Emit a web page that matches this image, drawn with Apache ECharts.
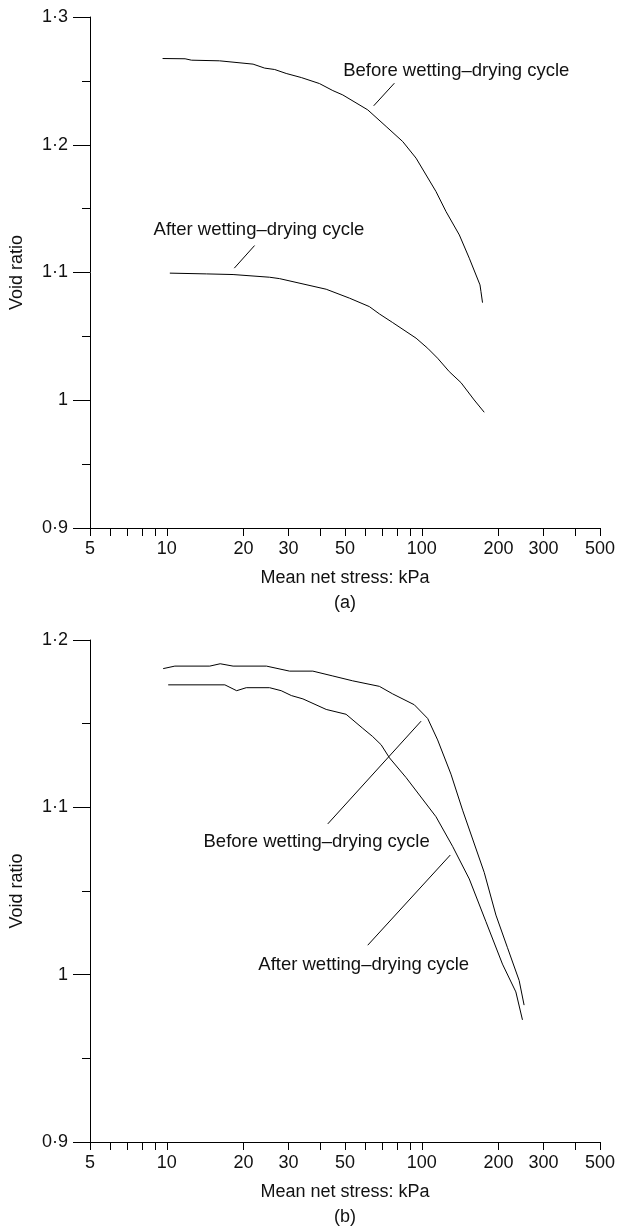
<!DOCTYPE html>
<html>
<head>
<meta charset="utf-8">
<script src="https://cdn.jsdelivr.net/npm/echarts@6/dist/echarts.min.js"></script>
<style>
  html, body { margin: 0; padding: 0; background: #fff; }
  #chart { width: 618px; height: 1231px; }
</style>
</head>
<body>
<div id="chart"></div>
<script>
// ---------- data ----------
const xTickValues = [5, 6, 7, 8, 9, 10, 20, 30, 40, 50, 60, 70, 80, 90, 100, 200, 300, 400, 500];
const xLabelValues = [5, 10, 20, 30, 50, 100, 200, 300, 500];

// (a) Before wetting-drying cycle
const aBeforeX = [9.63, 11.8, 12.5, 16.1, 21.8, 24.2, 26.5, 29.4, 33.7, 39.7, 44.8, 49.0, 61.4, 72.5, 84.2, 95.0, 113.7, 124.5, 140.4, 153.6, 169.2, 170.7, 173.1];
const aBeforeY = [1.2675, 1.2673, 1.2662, 1.2657, 1.2631, 1.2600, 1.2589, 1.2558, 1.2526, 1.2479, 1.2424, 1.2390, 1.2273, 1.2143, 1.2025, 1.1895, 1.1634, 1.1477, 1.1294, 1.1112, 1.0903, 1.0850, 1.0764];
// (a) After wetting-drying cycle
const aAfterX = [10.28, 14.3, 18.2, 25.3, 27.7, 42.2, 52.1, 62.3, 68.2, 76.9, 95.0, 105.5, 115.4, 128.2, 142.5, 160.6, 175.8];
const aAfterY = [1.0995, 1.0989, 1.0984, 1.0963, 1.0952, 1.0869, 1.0799, 1.0733, 1.0676, 1.0608, 1.0486, 1.0407, 1.0329, 1.0224, 1.0138, 1.0002, 0.9906];

// (b) Before wetting-drying cycle
const bBeforeX = [9.68, 10.76, 14.75, 16.2, 18.2, 24.6, 30.3, 37.4, 44.8, 53.6, 68.2, 76.9, 93.5, 105.5, 115.4, 130.2, 144.6, 175.8, 195.4, 216.9, 241, 252];
const bBeforeY = [1.1829, 1.1844, 1.1844, 1.1858, 1.1844, 1.1844, 1.1814, 1.1814, 1.1785, 1.1756, 1.1723, 1.1678, 1.1613, 1.1531, 1.1403, 1.1198, 1.0983, 1.0611, 1.0356, 1.0161, 0.9965, 0.9818];
// (b) After wetting-drying cycle
const bAfterX = [10.13, 16.9, 18.8, 20.5, 25.3, 28.1, 30.8, 34.2, 42.2, 50.5, 58.7, 64.2, 69.3, 74.7, 86.8, 113.7, 132.1, 153.6, 178.5, 207.3, 233.9, 248.3];
const bAfterY = [1.1732, 1.1732, 1.1697, 1.1715, 1.1715, 1.1697, 1.1668, 1.1648, 1.1585, 1.1556, 1.1472, 1.1423, 1.1374, 1.1296, 1.1178, 1.0944, 1.0767, 1.0572, 1.0317, 1.0063, 0.9897, 0.9730];

const beforeLabel = 'Before wetting\u2013drying cycle';
const afterLabel = 'After wetting\u2013drying cycle';
const xName = 'Mean net stress: kPa';
const yName = 'Void ratio';

// annotation anchors (data coordinates)
const aBeforeText = [136.6, 1.2579];
const aBeforeLeader = [[78.1, 1.2482], [64.8, 1.2305]];
const aAfterText = [23.0, 1.1334];
const aAfterLeader = [[22.1, 1.1211], [18.4, 1.1034]];
const bBeforeText = [38.7, 1.0791];
const bBeforeLeader = [[99.4, 1.1515], [42.8, 1.0901]];
const bAfterText = [59.2, 1.0059];
const bAfterLeader = [[129.4, 1.0715], [61.4, 1.0176]];

// ---------- chart ----------
const FONT = "'Liberation Sans', Arial, Helvetica, sans-serif";
const TXT = '#111';
const zip = (xs, ys) => xs.map((x, i) => [x, ys[i]]);
const yFmt = v => { const r = Math.round(v * 10) / 10; return r === 1 ? '1' : r.toFixed(1).replace('.', '\u00b7'); };

function xAxis(gridIndex, panel) {
  return {
    type: 'log', logBase: 10, gridIndex, min: 5, max: 500,
    name: xName + '\n' + panel, nameLocation: 'middle', nameGap: 38,
    nameTextStyle: { fontFamily: FONT, fontSize: 18, color: TXT, lineHeight: 25, verticalAlign: 'top' },
    axisLine: { show: true, lineStyle: { color: '#000', width: 1 } },
    axisTick: { show: true, length: 8, customValues: xTickValues, lineStyle: { color: '#000', width: 1 } },
    axisLabel: { show: true, customValues: xLabelValues, margin: 12, fontFamily: FONT, fontSize: 18, color: TXT, formatter: v => String(Math.round(v)) },
    minorTick: { show: false }, splitLine: { show: false }
  };
}
function yAxis(gridIndex, max) {
  return {
    type: 'value', gridIndex, min: 0.9, max, interval: 0.1,
    name: yName, nameLocation: 'middle', nameRotate: 90, nameGap: 64,
    nameTextStyle: { fontFamily: FONT, fontSize: 18, color: TXT },
    axisLine: { show: true, lineStyle: { color: '#000', width: 1 } },
    axisTick: { show: true, length: 17, lineStyle: { color: '#000', width: 1 } },
    minorTick: { show: true, splitNumber: 2, length: 8, lineStyle: { color: '#000', width: 1 } },
    axisLabel: { margin: 22, fontFamily: FONT, fontSize: 18, color: TXT, formatter: yFmt },
    splitLine: { show: false }, minorSplitLine: { show: false }
  };
}
function leader(pts) {
  return { silent: true, symbol: 'none', label: { show: false }, lineStyle: { color: '#000', width: 1, type: 'solid' },
    data: [[{ coord: pts[0] }, { coord: pts[1] }]], animation: false };
}
function note(pt, text) {
  return { silent: true, symbol: 'circle', symbolSize: 0, itemStyle: { color: 'rgba(0,0,0,0)' },
    label: { show: true, position: [0, 0], align: 'center', verticalAlign: 'middle', formatter: text,
      fontFamily: FONT, fontSize: 18.5, color: TXT },
    data: [{ coord: pt }], animation: false };
}
function line(name, xi, yi, data, textPt, text, leaderPts) {
  return { type: 'line', name, xAxisIndex: xi, yAxisIndex: yi, data, showSymbol: false, symbol: 'none',
    lineStyle: { color: '#000', width: 1 }, itemStyle: { color: '#000' }, smooth: false, silent: true,
    markLine: leader(leaderPts), markPoint: note(textPt, text) };
}

const chart = echarts.init(document.getElementById('chart'), null, { renderer: 'canvas' });
chart.setOption({
  animation: false,
  backgroundColor: '#fff',
  grid: [
    { left: 90, top: 17, width: 511, height: 511 },
    { left: 90, top: 640, width: 511, height: 511 }
  ],
  xAxis: [xAxis(0, '(a)'), xAxis(1, '(b)')],
  yAxis: [yAxis(0, 1.3), yAxis(1, 1.2)],
  series: [
    line(beforeLabel, 0, 0, zip(aBeforeX, aBeforeY), aBeforeText, beforeLabel, aBeforeLeader),
    line(afterLabel, 0, 0, zip(aAfterX, aAfterY), aAfterText, afterLabel, aAfterLeader),
    line(beforeLabel, 1, 1, zip(bBeforeX, bBeforeY), bBeforeText, beforeLabel, bBeforeLeader),
    line(afterLabel, 1, 1, zip(bAfterX, bAfterY), bAfterText, afterLabel, bAfterLeader)
  ]
});
</script>
</body>
</html>
